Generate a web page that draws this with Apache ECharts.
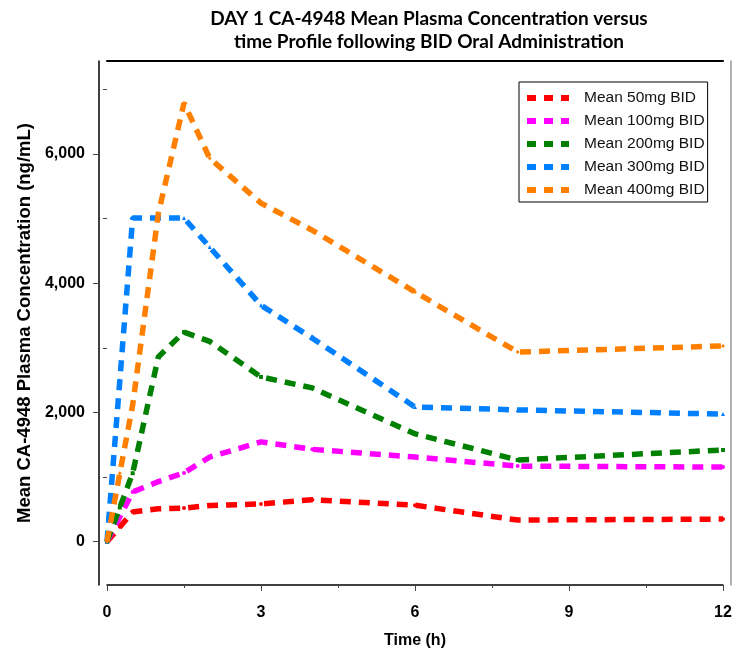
<!DOCTYPE html>
<html>
<head>
<meta charset="utf-8">
<script src="https://cdn.jsdelivr.net/npm/echarts@6/dist/echarts.min.js"></script>
<style>
  html, body { margin: 0; padding: 0; background: #fff; }
  #main { width: 743px; height: 654px; }
</style>
</head>
<body>
<div id="main"></div>
<script>
// sampling times (h)
const times = [0, 0.25, 0.5, 1, 1.5, 2, 3, 4, 6, 8, 12];

// mean plasma concentration (ng/mL) per dose group
const mean50 = [0, 230, 460, 510, 520, 560, 585, 650, 565, 335, 350];
const mean100 = [0, 385, 770, 930, 1065, 1310, 1545, 1430, 1310, 1170, 1155];
const mean200 = [0, 530, 1060, 2860, 3245, 3100, 2550, 2380, 1670, 1265, 1420];
const mean300 = [0, 2500, 5010, 5010, 5010, 4560, 3660, 3150, 2085, 2040, 1975];
const mean400 = [0, 1060, 2115, 5080, 6790, 5935, 5240, 4820, 3865, 2935, 3030];

const seriesNames = ['Mean 50mg BID', 'Mean 100mg BID', 'Mean 200mg BID', 'Mean 300mg BID', 'Mean 400mg BID'];
const seriesValues = [mean50, mean100, mean200, mean300, mean400];
const colors = ['#ff0000', '#ff00ff', '#008000', '#0080ff', '#ff8000'];
const symbols = ['circle', 'circle', 'rect', 'triangle', 'diamond'];

const yLabelTicks = [0, 2000, 4000, 6000];
const yMinorTicks = [1000, 3000, 5000, 7000];

const axisFont = "'Liberation Sans Narrow', 'Liberation Sans', Arial, sans-serif";

// three short dashes, like the legend samples of the original
const dashIcon = 'path://M0,0h9v6h-9z M17,0h9v6h-9z M34,0h8v6h-8z';

const myChart = echarts.init(document.getElementById('main'));

myChart.setOption({
  animation: false,
  backgroundColor: '#fff',
  title: {
    text: 'DAY 1 CA-4948 Mean Plasma Concentration versus\ntime Profile following BID Oral Administration',
    left: 424,
    top: 2,
    textAlign: 'center',
    textStyle: {
      fontFamily: 'Lato',
      fontWeight: 'bold',
      fontSize: 19,
      lineHeight: 23,
      color: '#000'
    }
  },
  legend: {
    data: seriesNames.map(n => ({ name: n, icon: dashIcon })),
    orient: 'vertical',
    left: 519,
    top: 82,
    padding: [8, 3, 4, 8],
    borderColor: '#000',
    borderWidth: 1,
    itemWidth: 42,
    itemHeight: 6,
    itemGap: 7,
    textStyle: {
      fontFamily: "'Liberation Sans', Arial, sans-serif",
      fontSize: 15.5,
      color: '#111',
      padding: [0, 0, 0, 10]
    }
  },
  grid: { left: 107, right: 20, top: 61, bottom: 69 },
  xAxis: [
    {
      type: 'value',
      min: 0,
      max: 12,
      interval: 3,
      name: 'Time (h)',
      nameLocation: 'middle',
      nameGap: 48,
      nameTextStyle: { fontFamily: axisFont, fontWeight: 'bold', fontSize: 16, color: '#000' },
      axisLine: { show: true, onZero: false, lineStyle: { color: '#000', width: 1.5 } },
      axisTick: { show: true, length: 6, lineStyle: { color: '#444' } },
      minorTick: { show: true, splitNumber: 2, length: 3, lineStyle: { color: '#444' } },
      axisLabel: { margin: 20, fontFamily: axisFont, fontWeight: 'bold', fontSize: 16, color: '#000' },
      splitLine: { show: false }
    },
    {
      type: 'value',
      position: 'top',
      min: 0,
      max: 12,
      axisLine: { show: true, onZero: false, lineStyle: { color: '#000', width: 2 } },
      axisTick: { show: false },
      axisLabel: { show: false },
      splitLine: { show: false }
    }
  ],
  yAxis: [
    {
      type: 'value',
      min: -670,
      max: 7440,
      offset: 8,
      name: 'Mean CA-4948 Plasma Concentration (ng/mL)',
      nameLocation: 'middle',
      nameGap: 59,
      nameTextStyle: { fontFamily: "'Liberation Sans', Arial, sans-serif", fontWeight: 'bold', fontSize: 18.5, color: '#000' },
      axisLine: { show: true, onZero: false, lineStyle: { color: '#000', width: 1.5 } },
      axisTick: { show: true, length: 6, customValues: yLabelTicks, lineStyle: { color: '#444' } },
      axisLabel: {
        customValues: yLabelTicks,
        margin: 14,
        fontFamily: axisFont,
        fontWeight: 'bold',
        fontSize: 16,
        color: '#000',
        formatter: v => v.toLocaleString('en-US')
      },
      splitLine: { show: false }
    },
    {
      type: 'value',
      min: -670,
      max: 7440,
      offset: 8,
      position: 'left',
      axisLine: { show: false },
      axisTick: { show: true, length: 4, customValues: yMinorTicks, lineStyle: { color: '#444' } },
      axisLabel: { show: false },
      splitLine: { show: false }
    },
    {
      type: 'value',
      min: -670,
      max: 7440,
      offset: 8,
      position: 'right',
      axisLine: { show: true, onZero: false, lineStyle: { color: '#999', width: 1.5 } },
      axisTick: { show: false },
      axisLabel: { show: false },
      splitLine: { show: false }
    }
  ],
  series: seriesNames.map((name, i) => ({
    name: name,
    type: 'line',
    xAxisIndex: 0,
    yAxisIndex: 0,
    data: times.map((t, j) => [t, seriesValues[i][j]]),
    color: colors[i],
    symbol: symbols[i],
    symbolSize: 4,
    showSymbol: true,
    lineStyle: { color: colors[i], width: 5.5, type: [11, 8], cap: 'butt' },
    itemStyle: { color: colors[i] },
    z: 2 + i
  }))
});
</script>
</body>
</html>
